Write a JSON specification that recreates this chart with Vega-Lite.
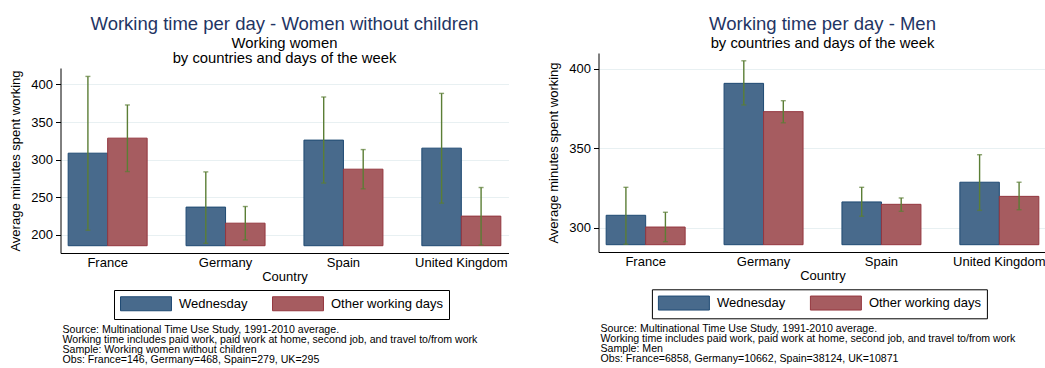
{
  "$schema": "https://vega.github.io/schema/vega-lite/v6.json",
  "background": "white",
  "padding": {"left": 9.5, "top": 14, "right": 0, "bottom": 0},
  "datasets": {
    "women": [
      {"country": "France", "day": "Wednesday", "mean": 308.5, "lo": 205.9, "hi": 410.7},
      {"country": "France", "day": "Other working days", "mean": 328.5, "lo": 284.0, "hi": 372.7},
      {"country": "Germany", "day": "Wednesday", "mean": 236.7, "lo": 188.5, "hi": 283.6},
      {"country": "Germany", "day": "Other working days", "mean": 215.3, "lo": 193.0, "hi": 237.5},
      {"country": "Spain", "day": "Wednesday", "mean": 325.9, "lo": 268.7, "hi": 383.3},
      {"country": "Spain", "day": "Other working days", "mean": 287.2, "lo": 261.1, "hi": 313.3},
      {"country": "United Kingdom", "day": "Wednesday", "mean": 315.2, "lo": 242.0, "hi": 388.1},
      {"country": "United Kingdom", "day": "Other working days", "mean": 224.7, "lo": 186.3, "hi": 262.8}
    ],
    "men": [
      {"country": "France", "day": "Wednesday", "mean": 307.8, "lo": 289.6, "hi": 325.4},
      {"country": "France", "day": "Other working days", "mean": 300.4, "lo": 291.2, "hi": 309.7},
      {"country": "Germany", "day": "Wednesday", "mean": 390.8, "lo": 377.2, "hi": 405.0},
      {"country": "Germany", "day": "Other working days", "mean": 373.0, "lo": 366.0, "hi": 379.9},
      {"country": "Spain", "day": "Wednesday", "mean": 316.2, "lo": 307.2, "hi": 325.4},
      {"country": "Spain", "day": "Other working days", "mean": 314.7, "lo": 310.3, "hi": 318.7},
      {"country": "United Kingdom", "day": "Wednesday", "mean": 328.6, "lo": 310.9, "hi": 345.9},
      {"country": "United Kingdom", "day": "Other working days", "mean": 319.7, "lo": 311.3, "hi": 328.6}
    ]
  },
  "config": {
    "font": "Liberation Sans",
    "view": {"stroke": null},
    "title": {"fontSize": 18.5, "fontWeight": "normal", "color": "#1f3564", "offset": 2},
    "axis": {"domainColor": "black", "tickColor": "black", "labelColor": "black", "titleColor": "black", "labelFontSize": 13, "titleFontSize": 13, "titleFontWeight": "normal", "gridColor": "#e8f0f2", "tickSize": 5, "labelPadding": 3},
    "axisX": {"ticks": false, "grid": false, "labelAngle": 0, "titlePadding": 1},
    "axisY": {"titlePadding": 8},
    "legend": {"orient": "none", "direction": "horizontal", "title": null, "strokeColor": "black", "fillColor": "white", "padding": 6, "labelFontSize": 13, "labelColor": "black", "labelOffset": 25.5, "symbolOffset": 18.5, "columnPadding": 22, "symbolType": "M-3.64,-1H3.64V1H-3.64Z", "symbolSize": 196, "symbolStrokeWidth": 1}
  },
  "resolve": {"scale": {"fill": "independent", "stroke": "independent", "y": "independent"}, "legend": {"fill": "independent", "stroke": "independent"}},
  "spacing": 39,
  "hconcat": [
    {
      "title": {"text": ["Source:  Multinational Time Use Study, 1991-2010 average.", "Working time includes paid work, paid work at home, second job, and travel to/from work", "Sample: Working women without children", "Obs: France=146, Germany=468, Spain=279, UK=295"], "orient": "bottom", "anchor": "start", "frame": "group", "dx": 2, "fontSize": 10.6, "lineHeight": 10, "color": "black", "fontWeight": "normal", "offset": 5},
      "spacing": 0,
      "resolve": {"scale": {"fill": "independent", "stroke": "independent"}, "legend": {"fill": "independent", "stroke": "independent"}},
      "vconcat": [
        {
          "title": {"text": "Working time per day - Women without children", "offset": 2},
          "width": 448,
          "height": 1,
          "data": {"values": []},
          "mark": "rule",
          "encoding": {}
        },
        {
          "title": {"text": ["Working women", "by countries and days of the week"], "fontSize": 14.8, "lineHeight": 15, "color": "black"},
          "width": 448,
          "height": 185,
          "data": {"name": "women"},
          "encoding": {
            "x": {"field": "country", "type": "nominal", "title": "Country", "scale": {"paddingInner": 0.33, "paddingOuter": 0.065}},
            "xOffset": {"field": "day", "type": "nominal", "sort": ["Wednesday", "Other working days"], "scale": {"paddingInner": 0, "paddingOuter": 0}}
          },
          "layer": [
            {
              "mark": {"type": "bar", "strokeWidth": 1},
              "encoding": {
                "y": {"field": "mean", "type": "quantitative", "title": "Average minutes spent working", "scale": {"domain": [175.6, 421.9], "nice": false, "zero": false}, "axis": {"values": [200, 250, 300, 350, 400]}},
                "y2": {"datum": 185.3},
                "fill": {"field": "day", "type": "nominal", "sort": ["Wednesday", "Other working days"], "scale": {"domain": ["Wednesday", "Other working days"], "range": ["#486a8c", "#a65c60"]}, "legend": {"legendX": 53.5, "legendY": 222}},
                "stroke": {"field": "day", "type": "nominal", "sort": ["Wednesday", "Other working days"], "scale": {"domain": ["Wednesday", "Other working days"], "range": ["#1f4a73", "#94373f"]}, "legend": {"legendX": 53.5, "legendY": 222}}
              }
            },
            {
              "mark": {"type": "rule", "color": "#5b7e35", "strokeWidth": 1.4},
              "encoding": {"y": {"field": "lo", "type": "quantitative"}, "y2": {"field": "hi"}}
            },
            {
              "mark": {"type": "tick", "color": "#5b7e35", "size": 5, "thickness": 1.4, "orient": "horizontal"},
              "encoding": {"y": {"field": "hi", "type": "quantitative"}}
            },
            {
              "mark": {"type": "tick", "color": "#5b7e35", "size": 5, "thickness": 1.4, "orient": "horizontal"},
              "encoding": {"y": {"field": "lo", "type": "quantitative"}}
            }
          ]
        }
      ]
    },
    {
      "title": {"text": ["Source:  Multinational Time Use Study, 1991-2010 average.", "Working time includes paid work, paid work at home, second job, and travel to/from work", "Sample: Men", "Obs: France=6858, Germany=10662, Spain=38124, UK=10871"], "orient": "bottom", "anchor": "start", "frame": "group", "dx": 2, "fontSize": 10.6, "lineHeight": 10, "color": "black", "fontWeight": "normal", "offset": 5},
      "spacing": 0,
      "resolve": {"scale": {"fill": "independent", "stroke": "independent"}, "legend": {"fill": "independent", "stroke": "independent"}},
      "vconcat": [
        {
          "title": {"text": "Working time per day - Men", "offset": 2},
          "width": 448,
          "height": 1,
          "data": {"values": []},
          "mark": "rule",
          "encoding": {}
        },
        {
          "title": {"text": ["by countries and days of the week"], "fontSize": 14.8, "lineHeight": 15, "color": "black"},
          "width": 448,
          "height": 199,
          "data": {"name": "men"},
          "encoding": {
            "x": {"field": "country", "type": "nominal", "title": "Country", "scale": {"paddingInner": 0.33, "paddingOuter": 0.065}},
            "xOffset": {"field": "day", "type": "nominal", "sort": ["Wednesday", "Other working days"], "scale": {"paddingInner": 0, "paddingOuter": 0}}
          },
          "layer": [
            {
              "mark": {"type": "bar", "strokeWidth": 1},
              "encoding": {
                "y": {"field": "mean", "type": "quantitative", "title": "Average minutes spent working", "scale": {"domain": [284.7, 409.9], "nice": false, "zero": false}, "axis": {"values": [300, 350, 400]}},
                "y2": {"datum": 289.3},
                "fill": {"field": "day", "type": "nominal", "sort": ["Wednesday", "Other working days"], "scale": {"domain": ["Wednesday", "Other working days"], "range": ["#486a8c", "#a65c60"]}, "legend": {"legendX": 53.4, "legendY": 236.3}},
                "stroke": {"field": "day", "type": "nominal", "sort": ["Wednesday", "Other working days"], "scale": {"domain": ["Wednesday", "Other working days"], "range": ["#1f4a73", "#94373f"]}, "legend": {"legendX": 53.4, "legendY": 236.3}}
              }
            },
            {
              "mark": {"type": "rule", "color": "#5b7e35", "strokeWidth": 1.4},
              "encoding": {"y": {"field": "lo", "type": "quantitative"}, "y2": {"field": "hi"}}
            },
            {
              "mark": {"type": "tick", "color": "#5b7e35", "size": 5, "thickness": 1.4, "orient": "horizontal"},
              "encoding": {"y": {"field": "hi", "type": "quantitative"}}
            },
            {
              "mark": {"type": "tick", "color": "#5b7e35", "size": 5, "thickness": 1.4, "orient": "horizontal"},
              "encoding": {"y": {"field": "lo", "type": "quantitative"}}
            }
          ]
        }
      ]
    }
  ]
}
